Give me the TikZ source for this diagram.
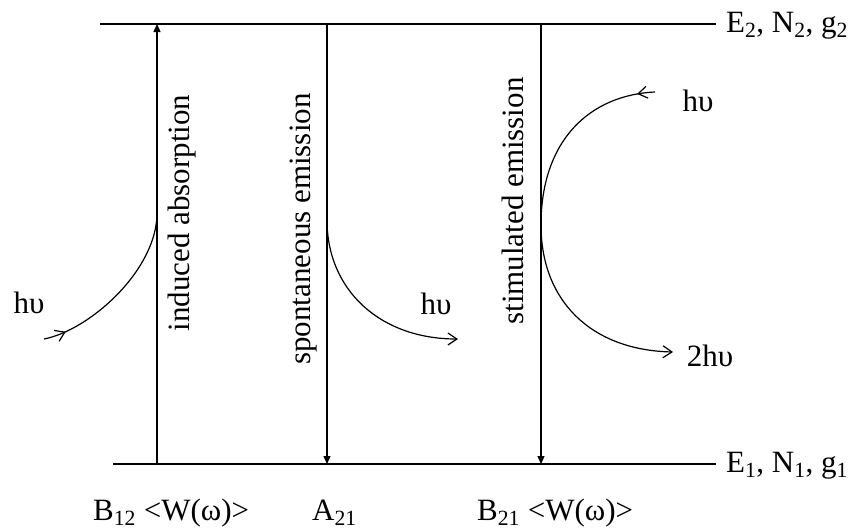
\documentclass[tikz,border=0pt]{standalone}
\usepackage{fontspec}
\setmainfont{Liberation Serif}
\usetikzlibrary{arrows.meta,decorations.markings}
\begin{document}
\begin{tikzpicture}[x=1pt,y=-1pt,
  lbl/.style={font=\fontsize{31}{37}\selectfont, inner sep=0pt},
  level/.style={line width=1.4pt},
  trans/.style={line width=1.3pt, -{Triangle[length=8pt,width=7pt]}},
  photon/.style={line width=1.2pt},
  barb/.tip={Straight Barb[length=9pt,width=12pt,line width=1.2pt]},
  markat/.style={postaction={decorate}, decoration={markings, mark=at position #1 with {\arrow{barb}}}}
]
\useasboundingbox (0,0) rectangle (860,531);
% energy levels
\coordinate (t0) at (100,24); \coordinate (t1) at (716,24);
\coordinate (b0) at (113,464); \coordinate (b1) at (716,464);
\draw[level] (t0) -- (t1);
\draw[level] (b0) -- (b1);
\node[lbl, anchor=base west] (E2) at (726,32) {E\textsubscript{2}, N\textsubscript{2}, g\textsubscript{2}};
\node[lbl, anchor=base west] (E1) at (726,472) {E\textsubscript{1}, N\textsubscript{1}, g\textsubscript{1}};
% transitions
\coordinate (a1) at (157,464); \coordinate (a2) at (157,24);
\coordinate (s1) at (327,24); \coordinate (s2) at (327,464);
\coordinate (m1) at (541,24); \coordinate (m2) at (541,464);
\draw[trans] (a1) -- (a2);
\draw[trans] (s1) -- (s2);
\draw[trans] (m1) -- (m2);
% photons
\coordinate (p1s) at (44,339); \coordinate (p1e) at (157,213);
\draw[photon, markat=23pt] (p1s) .. controls (90,330) and (157,270) .. (p1e);
\coordinate (p2s) at (327,220); \coordinate (p2e) at (458,339);
\draw[photon, -{barb}] (p2s) .. controls (327,290) and (380,339) .. (p2e);
\coordinate (p3s) at (655,92); \coordinate (p3e) at (541,225);
\draw[photon, markat=18pt] (p3s) .. controls (590,95) and (541,140) .. (p3e);
\coordinate (p4e) at (673,352);
\draw[photon, -{barb}] (p3e) .. controls (541,300) and (590,350) .. (p4e);
% photon labels
\node[lbl] (h1) at (29,303) {hυ};
\node[lbl] (h2) at (436,304) {hυ};
\node[lbl] (h3) at (698,101) {hυ};
\node[lbl] (h4) at (710,356) {2hυ};
% process labels
\node[lbl, rotate=90] (ia) at (182,213) {induced absorption};
\node[lbl, rotate=90] (se) at (304,229) {spontaneous emission};
\node[lbl, rotate=90] (st) at (513,201) {stimulated emission};
% coefficients
\node[lbl, anchor=base west] (B12) at (93,520) {B\textsubscript{12} <W(ω)>};
\node[lbl, anchor=base west] (A21) at (312,520) {A\textsubscript{21}};
\node[lbl, anchor=base west] (B21) at (477,520) {B\textsubscript{21} <W(ω)>};
\end{tikzpicture}
\end{document}
